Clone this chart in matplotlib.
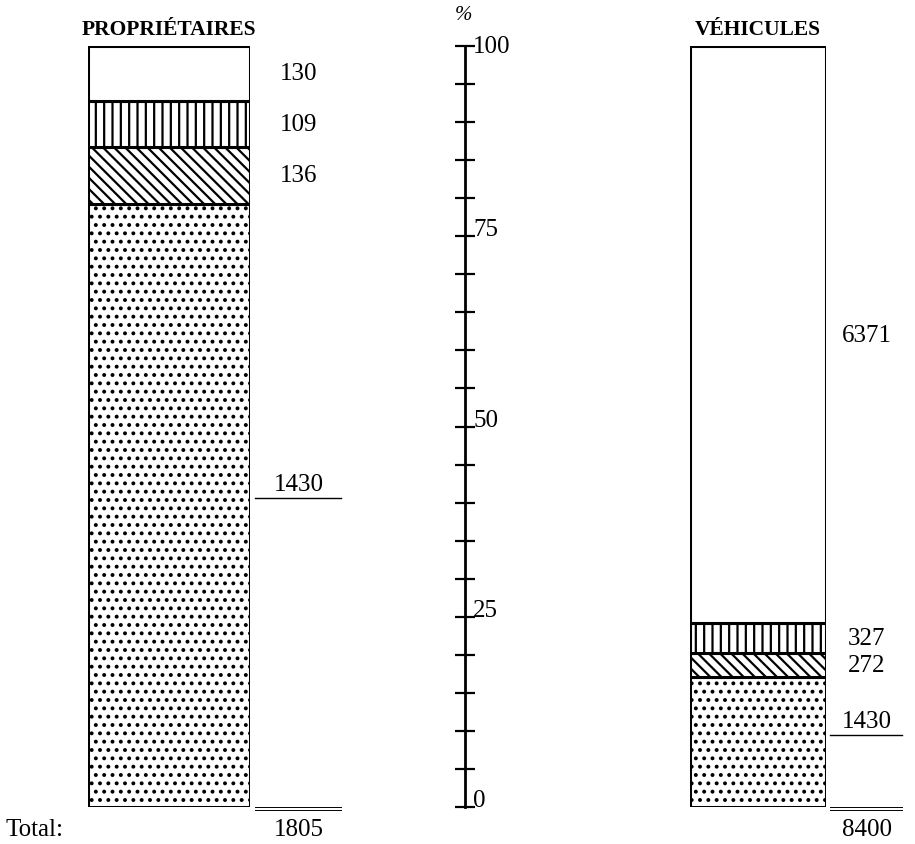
import matplotlib
matplotlib.use('Agg')
import matplotlib.pyplot as plt
from matplotlib.transforms import blended_transform_factory

# stacked from the bottom up: dotted, diagonal, vertical, blank
owners = [1430, 136, 109, 130]
vehicles = [1430, 272, 327, 6371]
owners_total = 1805
vehicles_total = 8400
hatches = ['..', '\\\\\\', '||', '']
scale_ticks = list(range(0, 101, 5))
scale_labels = [0, 25, 50, 75, 100]

plt.rcParams['font.family'] = ['Liberation Serif', 'DejaVu Serif']
plt.rcParams['hatch.linewidth'] = 1.6

W, H = 915, 845
fig = plt.figure(figsize=(W / 100, H / 100), dpi=100)
bottom = (H - 808) / H
height = (808 - 47) / H


def draw_bar(ax, values, total, title):
    tr = blended_transform_factory(ax.transAxes, ax.transData)
    base = 0.0
    for v, h in zip(values, hatches):
        p = v / total * 100
        ax.bar(0, p, bottom=base, width=1, color='white', edgecolor='black',
               hatch=h, linewidth=2.2)
        mid = base + p / 2
        if h == '..':
            ax.plot([1.03, 1.56], [mid + 1, mid + 1], transform=tr,
                    color='black', lw=1.0, clip_on=False)
            ax.text(1.3, mid + 1.4, str(v), transform=tr, ha='center',
                    va='bottom', fontsize=18)
        else:
            ax.text(1.3, mid, str(v), transform=tr, ha='center',
                    va='center', fontsize=18)
        base += p
    # double rule and total
    for y in (0, -0.4):
        ax.plot([1.03, 1.56], [y, y], transform=tr, color='black', lw=0.7,
                clip_on=False)
    ax.text(1.3, -2.9, str(total), transform=tr, ha='center', va='center',
            fontsize=18)
    ax.text(0.5, 102.2, title, transform=tr, ha='center', va='center',
            fontsize=15.5, fontweight='bold')
    ax.set_xlim(-0.5, 0.5)
    ax.set_ylim(0, 100)
    ax.axis('off')


ax1 = fig.add_axes([88 / W, bottom, 162 / W, height])
draw_bar(ax1, owners, owners_total, 'PROPRIÉTAIRES')

ax2 = fig.add_axes([690 / W, bottom, 136 / W, height])
draw_bar(ax2, vehicles, vehicles_total, 'VÉHICULES')

# percentage scale in the middle
axs = fig.add_axes([465 / W, bottom, 0.0005, height])
axs.set_ylim(0, 100)
for side in ['top', 'right', 'bottom']:
    axs.spines[side].set_visible(False)
axs.spines['left'].set_linewidth(2.0)
axs.set_xticks([])
axs.set_yticks(scale_ticks)
axs.tick_params(axis='y', direction='inout', length=14, width=1.6,
                labelleft=False)
for v in scale_labels:
    axs.annotate(str(v), xy=(0, v), xycoords=('axes fraction', 'data'),
                 xytext=(6, 0 if v == 100 else 5), textcoords='offset points',
                 ha='left', va='center', fontsize=18)
axs.annotate('%', xy=(0, 100), xycoords=('axes fraction', 'data'),
             xytext=(-1, 23), textcoords='offset points', ha='center',
             va='center', fontsize=15, style='italic')

fig.text(5 / W, 1 - 830 / H, 'Total:', ha='left', va='center', fontsize=18)

plt.savefig('out.png', dpi=100)
